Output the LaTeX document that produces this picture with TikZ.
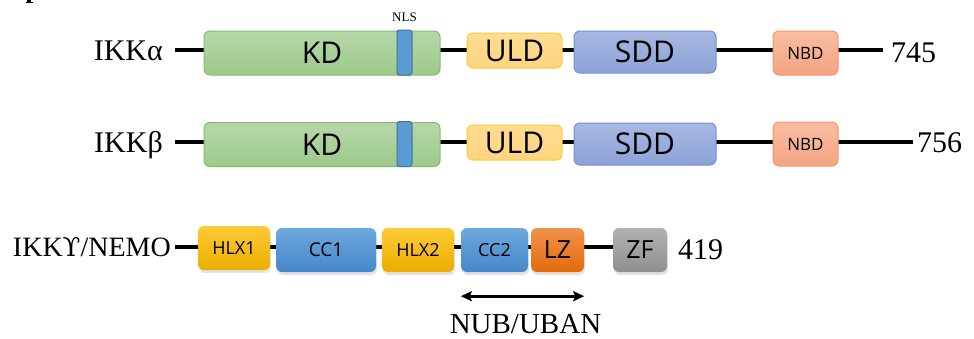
\documentclass[tikz,border=0pt]{standalone}
\usepackage{fontspec}
\setmainfont{Liberation Serif}
\newfontfamily\boxfont{Open Sans}
\newfontfamily\greekfont{DejaVu Serif}
\usetikzlibrary{arrows.meta,shadows}

\definecolor{kdtop}{HTML}{B7D8A9}
\definecolor{kdbot}{HTML}{9CC98A}
\definecolor{kdline}{HTML}{82BD6C}
\definecolor{nlsfill}{HTML}{5B9BD5}
\definecolor{nlsline}{HTML}{41719C}
\definecolor{uldtop}{HTML}{FFDC92}
\definecolor{uldbot}{HTML}{FFD47E}
\definecolor{uldline}{HTML}{FFC83C}
\definecolor{sddtop}{HTML}{A8B8E2}
\definecolor{sddbot}{HTML}{8CA2D8}
\definecolor{sddline}{HTML}{7490D2}
\definecolor{nbdtop}{HTML}{F7BDA2}
\definecolor{nbdbot}{HTML}{F4A482}
\definecolor{nbdline}{HTML}{F29868}
\definecolor{hlxtop}{HTML}{FFCA35}
\definecolor{hlxbot}{HTML}{E9AE00}
\definecolor{cctop}{HTML}{6EA8DE}
\definecolor{ccbot}{HTML}{4587C9}
\definecolor{lztop}{HTML}{F3914C}
\definecolor{lzbot}{HTML}{E26B0C}
\definecolor{zftop}{HTML}{B2B2B2}
\definecolor{zfbot}{HTML}{8F8F8F}

\tikzset{
  backbone/.style={line width=4pt},
  dombox/.style={rounded corners=6pt, line width=1pt, inner sep=0pt,
    font=\boxfont, text=black},
  kdbox/.style={dombox, top color=kdtop, bottom color=kdbot, draw=kdline,
    minimum width=236pt, minimum height=44pt, font=\boxfont\fontsize{30}{30}\selectfont},
  nlsbox/.style={rounded corners=2.5pt, fill=nlsfill, draw=nlsline, line width=1pt,
    minimum width=15pt, minimum height=45pt, inner sep=0pt},
  uldbox/.style={dombox, top color=uldtop, bottom color=uldbot, draw=uldline,
    minimum width=95pt, minimum height=35pt, font=\boxfont\fontsize{30}{30}\selectfont},
  sddbox/.style={dombox, top color=sddtop, bottom color=sddbot, draw=sddline,
    minimum width=142pt, minimum height=42pt, font=\boxfont\fontsize{30}{30}\selectfont},
  nbdbox/.style={dombox, top color=nbdtop, bottom color=nbdbot, draw=nbdline,
    minimum width=65pt, minimum height=44pt, font=\boxfont\fontsize{17}{17}\selectfont},
  nemobox/.style={rounded corners=6pt, inner sep=0pt, text=black,
    minimum height=44pt,
    drop shadow={shadow xshift=1pt, shadow yshift=-3pt, opacity=0.22}},
  hlxbox/.style={nemobox, top color=hlxtop, bottom color=hlxbot,
    font=\boxfont\fontsize{18}{18}\selectfont},
  ccbox/.style={nemobox, top color=cctop, bottom color=ccbot,
    font=\boxfont\fontsize{19}{19}\selectfont},
  lzbox/.style={nemobox, top color=lztop, bottom color=lzbot,
    font=\boxfont\fontsize{25}{25}\selectfont},
  zfbox/.style={nemobox, top color=zftop, bottom color=zfbot,
    font=\boxfont\fontsize{25}{25}\selectfont},
  lbl/.style={inner sep=0pt, font=\fontsize{30}{30}\selectfont},
}

\begin{document}
\begin{tikzpicture}[x=1pt,y=-1pt]
\useasboundingbox (0,0) rectangle (974,338);

% fragment of a panel letter at the top edge
\fill (27,0) rectangle (31,2);
\fill (25.5,2) rectangle (32.5,3.2);

% ---------- IKK alpha ----------
\node[lbl, anchor=base east] (la) at (163,60) {IKKα};
\node[lbl, anchor=base west] (na) at (891,62) {745};
\coordinate (sa) at (175,50);
\coordinate (ea) at (883,50);
\draw[backbone] (sa) -- (ea);
\node[kdbox] (kda) at (322,53) {KD};
\node[nlsbox] (nlsa) at (404.5,52.5) {};
\node[inner sep=0pt, anchor=base, font=\fontsize{13}{13}\selectfont] (nlsl) at (404.5,21) {NLS};
\node[uldbox] (ulda) at (514.5,50.5) {ULD};
\node[sddbox] (sdda) at (645,52) {SDD};
\node[nbdbox] (nbda) at (805.5,53) {NBD};

% ---------- IKK beta ----------
\node[lbl, anchor=base east] (lb) at (163,152) {IKKβ};
\node[lbl, anchor=base west] (nb) at (917,152) {756};
\coordinate (sb) at (175,142);
\coordinate (eb) at (913,142);
\draw[backbone] (sb) -- (eb);
\node[kdbox] (kdb) at (322,144.5) {KD};
\node[nlsbox] (nlsb) at (404.5,144) {};
\node[uldbox] (uldb) at (514.5,142.5) {ULD};
\node[sddbox] (sddb) at (645,144) {SDD};
\node[nbdbox] (nbdb) at (805.5,144) {NBD};

% ---------- IKK gamma / NEMO ----------
\node[lbl, anchor=base east, font=\fontsize{28}{28}\selectfont] (lg) at (171,256)
  {IKK{\greekfont\fontsize{26}{26}\selectfont ϒ}/NEMO};
\coordinate (sg) at (175,247);
\draw[backbone] (sg) -- (613,247);
\node[hlxbox, minimum width=72pt] (hlx1) at (234,248) {HLX1};
\node[ccbox, minimum width=100pt] (cc1) at (326,250) {CC1};
\node[hlxbox, minimum width=72pt] (hlx2) at (418,250) {HLX2};
\node[ccbox, minimum width=67pt, font=\boxfont\fontsize{18}{18}\selectfont] (cc2) at (494.5,250) {CC2};
\node[lzbox, minimum width=53pt] (lz) at (557.5,250) {LZ};
\node[zfbox, minimum width=54pt] (zf) at (640,250) {ZF};
\node[lbl, anchor=base west] (ng) at (678,259) {419};

\draw[line width=3pt, {Stealth[length=11pt,width=10pt,inset=2pt]}-{Stealth[length=11pt,width=10pt,inset=2pt]}]
  ([yshift=-24pt]cc2.south west) -- ([yshift=-24pt]lz.south east);
\node[lbl, anchor=base, font=\fontsize{29}{29}\selectfont] (nub) at (525.5,333) {NUB/UBAN};
\end{tikzpicture}
\end{document}
